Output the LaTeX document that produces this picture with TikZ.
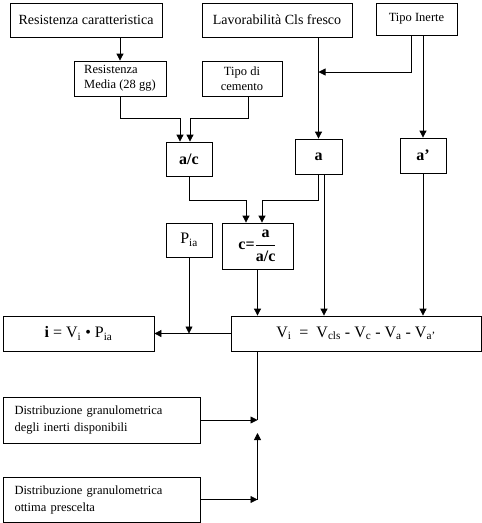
\documentclass[tikz,border=0pt]{standalone}
\usepackage{fontspec}
\setmainfont{Liberation Serif}
\usetikzlibrary{arrows.meta}

\tikzset{
  box/.style={draw, inner sep=2pt, font=\fontsize{14}{16}\selectfont},
  smallbox/.style={box, font=\fontsize{12.5}{15}\selectfont},
  varbox/.style={box, font=\fontsize{16}{18}\selectfont},
  distbox/.style={draw, inner sep=0pt, align=left, text width=174pt,
    font=\fontsize{12.5}{17}\selectfont},
  arr/.style={-{Triangle[length=7pt,width=7pt]}},
}

\begin{document}
\begin{tikzpicture}[x=1pt, y=-1pt, line width=0.8pt]
  \useasboundingbox (0,0) rectangle (482,523);

  % first row
  \node[box, minimum width=152pt, minimum height=34pt] (rc) at (86, 20) {Resistenza caratteristica};
  \node[box, minimum width=150pt, minimum height=34pt] (lav) at (277, 20) {Lavorabilità Cls fresco};
  \node[smallbox, minimum width=81pt, minimum height=32pt] (ti) at (416.5, 19) {Tipo Inerte};
  \node[smallbox, minimum width=92pt, minimum height=35pt, align=left] (rm) at (120, 78.5) {Resistenza\\Media (28 gg)};
  \node[smallbox, minimum width=80pt, minimum height=35pt, align=center] (tc) at (242, 78.5) {Tipo di\\cemento};

  % water, cement, aggregates
  \node[varbox, minimum width=46pt, minimum height=34pt] (ac) at (189, 159) {\textbf{a/c}};
  \node[varbox, minimum width=47pt, minimum height=35pt] (a) at (318.5, 156.5) {\textbf{a}};
  \node[varbox, minimum width=46pt, minimum height=35pt] (ap) at (423, 155.5) {\textbf{a’}};
  \node[varbox, minimum width=46pt, minimum height=34pt] (pia) at (189, 240) {P\textsubscript{ia}};
  \node[varbox, minimum width=71pt, minimum height=46pt] (c) at (257.5, 246)
    {\textbf{c=}$\displaystyle\frac{\mbox{\bfseries a}}{\mbox{\bfseries a/c}}$};

  % volumes
  \node[varbox, minimum width=151pt, minimum height=35pt] (i) at (78.5, 333.5)
    {\textbf{i} = V\textsubscript{i} • P\textsubscript{ia}};
  \node[varbox, minimum width=250pt, minimum height=35pt] (vi) at (356, 333.5)
    {V\textsubscript{i}\ \ =\ \ V\textsubscript{cls} - V\textsubscript{c} - V\textsubscript{a} - V\textsubscript{a’}};

  % grading curves
  \node[distbox, minimum width=197pt, minimum height=46pt] (d1) at (101.5, 420)
    {Distribuzione granulometrica\\degli inerti disponibili};
  \node[distbox, minimum width=197pt, minimum height=45pt] (d2) at (101.5, 499.5)
    {Distribuzione granulometrica\\ottima prescelta};

  \coordinate (j1) at (318.5, 72);
  \coordinate (k1) at (c.south |- d1.east);
  \coordinate (k2) at (c.south |- d2.east);
  \coordinate (va) at ([xshift=5.5pt]a.south);

  \draw[arr] (rm.north |- rc.south) -- (rm.north);
  \draw[arr] (lav.south -| a.north) -- (a.north);
  \draw[arr] ([xshift=-5.5pt]ti.south) |- (j1);
  \draw[arr] (ti.south -| ap.north) -- (ap.north);

  \draw[arr] (rm.south) -- ++(0,22) -| ([xshift=-9pt]ac.north);
  \draw[arr] ([xshift=6pt]tc.south) -- ++(0,22) -| ([xshift=1pt]ac.north);
  \draw[arr] (ac.south) -- ++(0,24) -| ([xshift=-11.5pt]c.north);
  \draw[arr] (a.south) -- ++(0,26) -| ([xshift=4.5pt]c.north);

  \draw[arr] (va) -- (va |- vi.north);
  \draw[arr] (ap.south) -- (ap.south |- vi.north);
  \draw[arr] (c.south) -- (c.south |- vi.north);
  \draw[arr] (vi.west) -- (i.east);
  \draw[arr] (pia.south) -- (pia.south |- vi.west);

  \draw (c.south |- vi.south) -- (k1);
  \draw[arr] (d1.east) -- (k1);
  \draw[arr] (d2.east) -- (k2);
  \draw[arr] (k2) -- ([yshift=-13pt]k1);
\end{tikzpicture}
\end{document}
